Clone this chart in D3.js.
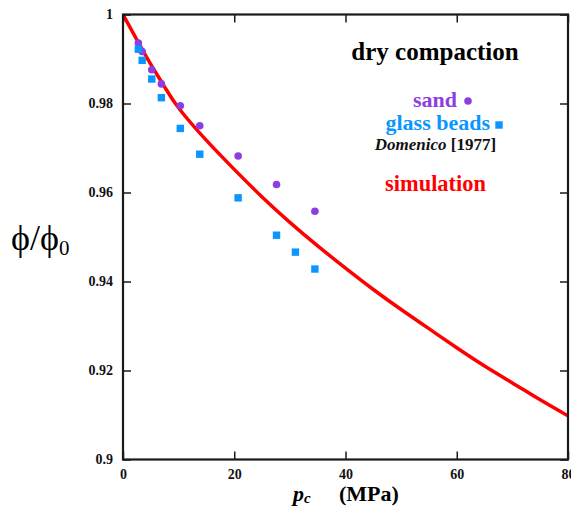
<!DOCTYPE html>
<html>
<head>
<meta charset="utf-8">
<script src="https://cdn.jsdelivr.net/npm/d3@7"></script>
<style>
  html, body { margin: 0; padding: 0; background: #fff; }
  svg { display: block; }
  text { font-family: "Liberation Serif", "Times New Roman", serif; }
</style>
</head>
<body>
<svg id="chart" width="571" height="510"></svg>
<script>
// Confining pressure (MPa) of the laboratory measurements
const pressures = [2.76, 3.45, 5.17, 6.9, 10.3, 13.8, 20.7, 27.6, 31.0, 34.5];
// Normalised porosity phi/phi0, sand (no reading at 31 MPa)
const sandPressures = [2.76, 3.45, 5.17, 6.9, 10.3, 13.8, 20.7, 27.6, 34.5];
const sandPhi = [0.9936, 0.9917, 0.9876, 0.9844, 0.9795, 0.9750, 0.9682, 0.9618, 0.9558];
// Normalised porosity phi/phi0, glass beads
const beadPhi = [0.9922, 0.9897, 0.9855, 0.9813, 0.9744, 0.9686, 0.9588, 0.9504, 0.9466, 0.9428];
// Simulation curve
const simPressure = [0, 2.5, 5, 7.5, 10, 15, 20, 25, 30, 35, 40, 45, 50, 55, 60, 65, 70, 75, 80];
const simPhi = [1.0, 0.9943, 0.9888, 0.9837, 0.9790, 0.9717, 0.9652, 0.9590, 0.9533, 0.9480,
                0.9430, 0.9382, 0.9337, 0.9294, 0.9251, 0.9210, 0.9172, 0.9134, 0.9098];
// Axis ticks
const xTicks = [0, 20, 40, 60, 80];
const yTicks = [0.9, 0.92, 0.94, 0.96, 0.98, 1];
const yTickLabels = ["0.9", "0.92", "0.94", "0.96", "0.98", "1"];

const svg = d3.select("#chart");
const plotLeft = 123, plotRight = 568, plotTop = 14.5, plotBottom = 459.5;

const x = d3.scaleLinear().domain([0, 80]).range([plotLeft, plotRight]);
const y = d3.scaleLinear().domain([0.9, 1]).range([plotBottom, plotTop]);

const purple = "#8b3fe3";
const blue = "#0a96ff";
const red = "#ff0000";
const axisColor = "#1a1a1a";
const serif = "'Liberation Serif', 'Times New Roman', serif";

// Clip marks to the frame
svg.append("defs").append("clipPath").attr("id", "plot-clip")
  .append("rect").attr("x", plotLeft).attr("y", plotTop)
  .attr("width", plotRight - plotLeft).attr("height", plotBottom - plotTop);

// Simulation curve
const line = d3.line().x(d => x(d[0])).y(d => y(d[1])).curve(d3.curveNatural);
svg.append("path")
  .datum(simPressure.map((p, i) => [p, simPhi[i]]))
  .attr("clip-path", "url(#plot-clip)")
  .attr("d", line)
  .attr("fill", "none")
  .attr("stroke", red)
  .attr("stroke-width", 3.5);

// Sand: circles
svg.append("g").selectAll("circle")
  .data(sandPressures.map((p, i) => [p, sandPhi[i]]))
  .join("circle")
  .attr("cx", d => x(d[0]))
  .attr("cy", d => y(d[1]))
  .attr("r", 3.8)
  .attr("fill", purple);

// Glass beads: squares
const sq = 7.4;
svg.append("g").selectAll("rect")
  .data(pressures.map((p, i) => [p, beadPhi[i]]))
  .join("rect")
  .attr("x", d => x(d[0]) - sq / 2)
  .attr("y", d => y(d[1]) - sq / 2)
  .attr("width", sq)
  .attr("height", sq)
  .attr("fill", blue);

// Axes with inward ticks on all four sides
const tickLen = 8;
const fmtY = d => yTickLabels[yTicks.indexOf(d)];
const axes = [
  d3.axisBottom(x).tickValues(xTicks).tickSizeInner(-tickLen).tickSizeOuter(0).tickPadding(10),
  d3.axisTop(x).tickValues(xTicks).tickSizeInner(-tickLen).tickSizeOuter(0).tickFormat(""),
  d3.axisLeft(y).tickValues(yTicks).tickSizeInner(-tickLen).tickSizeOuter(0).tickPadding(10).tickFormat(fmtY),
  d3.axisRight(y).tickValues(yTicks).tickSizeInner(-tickLen).tickSizeOuter(0).tickFormat("")
];
const positions = [
  `translate(0,${plotBottom})`, `translate(0,${plotTop})`,
  `translate(${plotLeft},0)`, `translate(${plotRight},0)`
];
axes.forEach((ax, i) => {
  const g = svg.append("g").attr("transform", positions[i]).call(ax)
    .attr("font-family", serif).attr("font-size", 14).attr("font-weight", "bold");
  g.select(".domain").remove();
  g.selectAll(".tick line").attr("stroke", axisColor).attr("stroke-width", 1.5);
  g.selectAll(".tick text").attr("fill", "#111");
});

// Frame
svg.append("rect")
  .attr("x", plotLeft).attr("y", plotTop)
  .attr("width", plotRight - plotLeft).attr("height", plotBottom - plotTop)
  .attr("fill", "none")
  .attr("stroke", axisColor)
  .attr("stroke-width", 2.2);

// Legend block
svg.append("text")
  .attr("x", 435).attr("y", 60)
  .attr("text-anchor", "middle")
  .style("font-weight", "bold").style("font-size", "25px")
  .attr("fill", "#000")
  .text("dry compaction");

svg.append("text")
  .attr("x", 457).attr("y", 107)
  .attr("text-anchor", "end")
  .style("font-weight", "bold").style("font-size", "22px")
  .attr("fill", purple)
  .text("sand");
svg.append("circle").attr("cx", 468).attr("cy", 101).attr("r", 3.8).attr("fill", purple);

svg.append("text")
  .attr("x", 490).attr("y", 130)
  .attr("text-anchor", "end")
  .style("font-weight", "bold").style("font-size", "22px")
  .attr("fill", blue)
  .text("glass beads");
svg.append("rect").attr("x", 499 - sq / 2).attr("y", 125 - sq / 2)
  .attr("width", sq).attr("height", sq).attr("fill", blue);

const dom = svg.append("text")
  .attr("x", 435.5).attr("y", 150)
  .attr("text-anchor", "middle")
  .style("font-weight", "bold").style("font-size", "17px")
  .attr("fill", "#111");
dom.append("tspan").style("font-style", "italic").text("Domenico");
dom.append("tspan").text(" [1977]");

svg.append("text")
  .attr("x", 435.5).attr("y", 191)
  .attr("text-anchor", "middle")
  .style("font-weight", "bold").style("font-size", "22.4px")
  .attr("fill", red)
  .text("simulation");

// Y-axis title
const yt = svg.append("text")
  .attr("x", 11).attr("y", 250)
  .style("font-size", "36px")
  .attr("fill", "#000");
yt.append("tspan").text("\u03D5/\u03D5");
yt.append("tspan").attr("dy", 5).style("font-size", "21px").text("0");

// X-axis title
const xt = svg.append("text")
  .attr("x", 293).attr("y", 501)
  .style("font-weight", "bold")
  .attr("fill", "#000");
xt.append("tspan").style("font-style", "italic").style("font-size", "22px").text("p");
xt.append("tspan").attr("dy", 2).style("font-style", "italic").style("font-size", "15px").text("c");
xt.append("tspan").attr("x", 339).attr("dy", -2).style("font-size", "22px").text("(MPa)");
</script>
</body>
</html>
